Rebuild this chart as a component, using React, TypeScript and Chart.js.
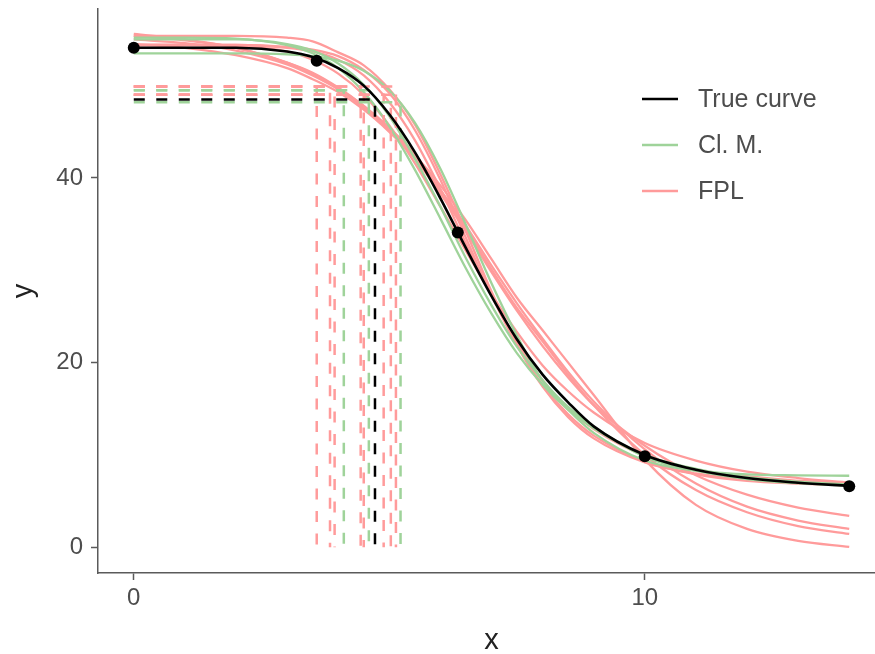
import React, { useEffect, useRef } from "react";
import { Chart, registerables } from "chart.js";
Chart.register(...registerables);

// ---- data ----
const X_GRID = [0, 1, 2, 3, 3.5, 4, 4.5, 5, 5.5, 6, 6.5, 7, 7.5, 8, 8.5, 9, 10, 11, 12, 13, 14];

const TRUE_CURVE = [54.1, 54.1, 54.1, 53.7, 53.1, 51.9, 50.0, 46.9, 42.8, 37.8, 32.4, 27.2, 22.5, 18.7, 15.7, 13.1, 10.0, 8.4, 7.5, 7.0, 6.65];

const CLM_1 = [53.5, 53.5, 53.5, 53.4, 53.2, 52.7, 51.6, 49.5, 46.0, 41.0, 34.9, 28.6, 22.9, 18.0, 14.9, 12.4, 9.4, 8.3, 7.9, 7.8, 7.75];
const CLM_2 = [55.0, 55.0, 55.0, 54.5, 53.8, 52.4, 50.1, 46.7, 42.1, 36.9, 31.3, 26.2, 21.7, 18.1, 15.2, 13.1, 9.8, 8.3, 7.4, 6.95, 6.7];
const CLM_3 = [55.2, 55.2, 55.1, 54.4, 53.5, 51.9, 49.3, 45.6, 40.9, 35.6, 30.2, 25.3, 21.0, 17.6, 14.9, 12.9, 10.0, 8.5, 7.6, 7.1, 6.8];

const FPL_1 = [55.6, 55.0, 54.1, 52.5, 51.3, 49.7, 47.8, 45.4, 42.5, 39.2, 35.4, 31.2, 27.0, 23.5, 20.0, 16.5, 9.5, 4.6, 2.0, 0.7, 0.05];
const FPL_2 = [55.4, 54.9, 54.1, 52.5, 51.4, 49.8, 47.8, 45.4, 42.6, 38.6, 34.5, 30.1, 25.9, 22.3, 18.7, 15.4, 10.0, 6.2, 3.8, 2.3, 1.45];
const FPL_3 = [54.5, 54.1, 53.3, 51.9, 50.7, 49.3, 47.4, 45.0, 42.2, 38.7, 34.8, 30.5, 26.4, 22.6, 19.0, 15.8, 10.6, 6.9, 4.4, 2.9, 2.0];
const FPL_4 = [55.0, 54.6, 53.8, 52.3, 51.1, 49.6, 47.6, 45.1, 42.1, 38.3, 34.2, 29.8, 25.6, 21.8, 18.4, 15.4, 11.0, 7.8, 5.7, 4.3, 3.4];
const FPL_5 = [54.4, 54.4, 54.3, 53.7, 52.8, 51.3, 49.0, 45.7, 41.6, 36.9, 32.1, 27.4, 23.3, 19.7, 16.9, 14.6, 11.3, 9.4, 8.2, 7.5, 7.0];
const FPL_6 = [54.4, 54.4, 54.4, 54.1, 53.7, 52.8, 51.1, 48.2, 44.1, 38.8, 32.9, 27.3, 22.2, 18.1, 15.0, 12.8, 9.9, 8.4, 7.7, 7.2, 7.0];
const FPL_7 = [54.4, 54.4, 54.4, 54.2, 53.9, 53.2, 51.7, 49.2, 45.2, 39.8, 33.5, 27.3, 21.9, 17.6, 14.4, 12.1, 9.3, 7.9, 7.2, 6.9, 6.7];
const FPL_8 = [55.4, 55.4, 55.4, 55.2, 54.8, 53.6, 52.2, 49.6, 45.8, 40.4, 34.2, 27.7, 21.9, 17.4, 14.1, 11.8, 9.2, 8.0, 7.4, 7.15, 7.0];

const CLM_CURVES = [CLM_1, CLM_2, CLM_3];
const FPL_CURVES = [FPL_1, FPL_2, FPL_3, FPL_4, FPL_5, FPL_6, FPL_7, FPL_8];

const POINT_X = [0, 3.58, 6.34, 10, 14];
const POINT_Y = [54.1, 52.7, 34.1, 9.86, 6.61];

const TRUE_LEVEL = 48.5;
const TRUE_XV = 4.72;
const CLM_LEVELS = [48.2, 49.5, 49.5];
const CLM_XV = [5.22, 4.6, 4.11];
const FPL_LEVELS = [49.9, 49.9, 49.0, 49.9, 49.0, 49.0, 49.0, 49.9];
const FPL_XV = [3.58, 3.84, 3.93, 4.44, 4.5, 4.89, 5.03, 5.13];

const X_TICKS = [0, 10];
const Y_TICKS = [0, 20, 40];
const LEGEND_LABELS = ["True curve", "Cl. M.", "FPL"];

// ---- styles ----
const FONT = "'Liberation Sans', Arial, Helvetica, sans-serif";
const RED = "#FF9B9B";
const GREEN = "#9FD39A";
const BLACK = "#000000";
const AXIS = "#5a5a5a";
const TEXT = "#4d4d4d";
const LEGEND_COLORS = [BLACK, GREEN, RED];
const DASH = [11, 11.5];

const curvePts = (ys: number[]) => X_GRID.map((x, i) => ({ x, y: ys[i] }));
const dashPts = (lvl: number, xv: number) => [
  { x: 0, y: lvl },
  { x: xv, y: lvl },
  { x: xv, y: 0 },
];

const legendPlugin = {
  id: "insideLegend",
  afterDatasetsDraw(chart: any) {
    const ctx = chart.ctx as CanvasRenderingContext2D;
    const area = chart.chartArea;
    const x0 = area.right - 243;
    ctx.save();
    LEGEND_LABELS.forEach((lab, i) => {
      const y = 99 + i * 46;
      ctx.strokeStyle = LEGEND_COLORS[i];
      ctx.lineWidth = 2.5;
      ctx.beginPath();
      ctx.moveTo(x0, y);
      ctx.lineTo(x0 + 36, y);
      ctx.stroke();
      ctx.fillStyle = TEXT;
      ctx.font = `25px ${FONT}`;
      ctx.textBaseline = "middle";
      ctx.textAlign = "left";
      ctx.fillText(lab, x0 + 56, y + 1);
    });
    ctx.restore();
  },
};

export default function App() {
  const ref = useRef<HTMLCanvasElement>(null);
  useEffect(() => {
    document.body.style.margin = "0";
    const datasets: any[] = [];
    datasets.push({
      data: POINT_X.map((x, i) => ({ x, y: POINT_Y[i] })),
      showLine: false,
      pointRadius: 6,
      pointBackgroundColor: BLACK,
      pointBorderWidth: 0,
      order: 0,
    });
    datasets.push({
      data: curvePts(TRUE_CURVE),
      borderColor: BLACK,
      borderWidth: 2.6,
      pointRadius: 0,
      cubicInterpolationMode: "monotone",
      order: 1,
    });
    datasets.push({
      data: dashPts(TRUE_LEVEL, TRUE_XV),
      borderColor: BLACK,
      borderWidth: 2.5,
      borderDash: DASH,
      pointRadius: 0,
      tension: 0,
      order: 2,
    });
    CLM_LEVELS.forEach((lvl, i) =>
      datasets.push({
        data: dashPts(lvl, CLM_XV[i]),
        borderColor: GREEN,
        borderWidth: 2.5,
        borderDash: DASH,
        pointRadius: 0,
        tension: 0,
        order: 3,
      })
    );
    FPL_LEVELS.forEach((lvl, i) =>
      datasets.push({
        data: dashPts(lvl, FPL_XV[i]),
        borderColor: RED,
        borderWidth: 2.5,
        borderDash: DASH,
        pointRadius: 0,
        tension: 0,
        order: 4,
      })
    );
    CLM_CURVES.forEach((ys) =>
      datasets.push({
        data: curvePts(ys),
        borderColor: GREEN,
        borderWidth: 2.3,
        pointRadius: 0,
        cubicInterpolationMode: "monotone",
        order: 5,
      })
    );
    FPL_CURVES.forEach((ys) =>
      datasets.push({
        data: curvePts(ys),
        borderColor: RED,
        borderWidth: 2.3,
        pointRadius: 0,
        cubicInterpolationMode: "monotone",
        order: 6,
      })
    );

    const ch = new Chart(ref.current!, {
      type: "line",
      data: { datasets },
      options: {
        animation: false,
        responsive: false,
        devicePixelRatio: 1,
        layout: { padding: { top: 9, right: 0, left: 0, bottom: 0 } },
        plugins: { legend: { display: false }, tooltip: { enabled: false } },
        elements: { line: { fill: false } },
        scales: {
          x: {
            type: "linear",
            min: -0.7,
            max: 14.7,
            afterBuildTicks: (s: any) => {
              s.ticks = X_TICKS.map((v) => ({ value: v }));
            },
            afterFit: (s: any) => {
              s.height = 81;
              s.paddingLeft = 0;
              s.paddingRight = 0;
            },
            grid: { drawOnChartArea: false, drawTicks: true, tickLength: 7, tickColor: AXIS, tickWidth: 1.5 },
            border: { display: true, color: AXIS, width: 1.5 },
            ticks: { color: TEXT, font: { family: FONT, size: 24 }, padding: 4, maxRotation: 0, autoSkip: false },
            title: {
              display: true,
              text: "x",
              color: "#222222",
              font: { family: FONT, size: 29, lineHeight: 0.9 },
              padding: { top: 0, bottom: 0 },
            },
          },
          y: {
            type: "linear",
            min: -2.78,
            max: 58.3,
            afterBuildTicks: (s: any) => {
              s.ticks = Y_TICKS.map((v) => ({ value: v }));
            },
            afterFit: (s: any) => {
              s.width = 98;
              s.paddingTop = 0;
              s.paddingBottom = 0;
            },
            grid: { drawOnChartArea: false, drawTicks: true, tickLength: 7, tickColor: AXIS, tickWidth: 1.5 },
            border: { display: true, color: AXIS, width: 1.5 },
            ticks: { color: TEXT, font: { family: FONT, size: 24 }, padding: 8, autoSkip: false },
            title: {
              display: true,
              text: "y",
              color: "#222222",
              font: { family: FONT, size: 29, lineHeight: 1 },
              padding: { top: 9, bottom: 0 },
            },
          },
        },
      },
      plugins: [legendPlugin],
    });
    return () => ch.destroy();
  }, []);
  return (
    <div style={{ position: "relative", width: 875, height: 654, overflow: "hidden" }}>
      <canvas ref={ref} width={891} height={654} style={{ display: "block" }} />
    </div>
  );
}
